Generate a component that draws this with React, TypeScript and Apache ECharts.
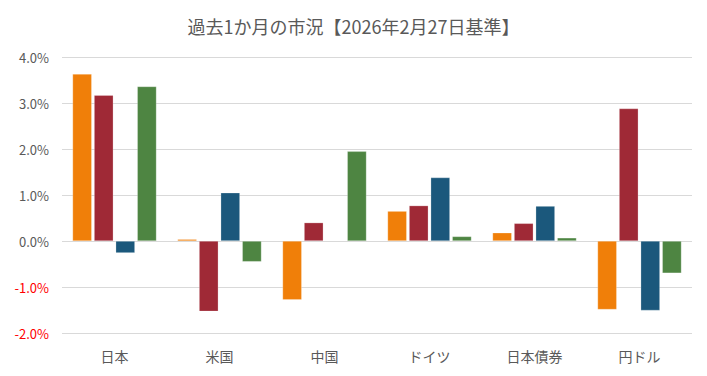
import React, { useEffect, useRef } from "react";
import * as echarts from "echarts";

const categories = ["日本", "米国", "中国", "ドイツ", "日本債券", "円ドル"];
const seriesA = [3.63, 0.04, -1.28, 0.65, 0.18, -1.49];
const seriesB = [3.17, -1.53, 0.4, 0.77, 0.385, 2.88];
const seriesC = [-0.26, 1.05, null, 1.38, 0.76, -1.51];
const seriesD = [3.36, -0.45, 1.95, 0.1, 0.07, -0.7];
const colors = ["#F07F09", "#9F2936", "#1B587C", "#4E8542"];
const titleText = "過去1か月の市況【2026年2月27日基準】";

export default function App() {
  const ref = useRef<HTMLDivElement>(null);
  useEffect(() => {
    document.body.style.margin = "0";
    const chart = echarts.init(ref.current!, null, { renderer: "svg" });
    const font = "'Noto Sans CJK JP', 'Noto Sans', sans-serif";
    const mk = (data: (number | null)[], i: number) => ({
      type: "bar",
      data,
      barGap: "12%",
      barCategoryGap: "20%",
      itemStyle: { color: colors[i], borderColor: "rgba(255,255,255,0.4)", borderWidth: 0.6 },
    });
    chart.setOption({
      animation: false,
      title: {
        text: titleText,
        left: "center",
        top: 12,
        textStyle: { fontFamily: font, fontSize: 18, fontWeight: "normal", color: "#595959" },
      },
      grid: { left: 62, right: 15, top: 57, bottom: 43 },
      xAxis: {
        type: "category",
        data: categories,
        axisLine: { show: false },
        axisTick: { show: false },
        axisLabel: { fontFamily: font, fontSize: 14, color: "#595959", margin: 16 },
      },
      yAxis: {
        type: "value",
        min: -2,
        max: 4,
        interval: 1,
        splitLine: { lineStyle: { color: "#D9D9D9", width: 1.2 } },
        axisLabel: {
          fontFamily: font,
          fontSize: 13,
          margin: 13,
          formatter: (v: number) => v.toFixed(1) + "%",
          color: (v: any) => (Number(v) < 0 ? "#FF0000" : "#595959"),
        },
      },
      series: [mk(seriesA, 0), mk(seriesB, 1), mk(seriesC, 2), mk(seriesD, 3)],
    });
    return () => chart.dispose();
  }, []);
  return <div ref={ref} style={{ width: 707, height: 376 }} />;
}
